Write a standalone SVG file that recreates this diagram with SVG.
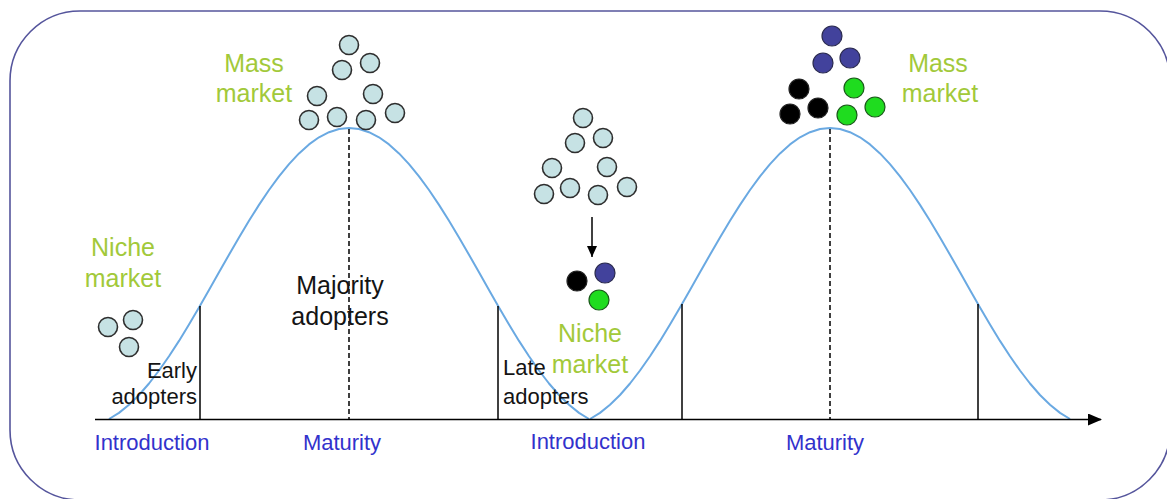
<svg xmlns="http://www.w3.org/2000/svg" width="1167" height="499" viewBox="0 0 1167 499">
<style>
text{font-family:"Liberation Sans",Arial,sans-serif}
.green{fill:#a2c93a;font-size:25px;text-anchor:middle}
.blk{fill:#141414}
.big{font-size:25px;text-anchor:middle}
.small{font-size:22px}
.blue{fill:#3232cc;font-size:22px;text-anchor:middle}
.pale{fill:#c6e2e4;stroke:#2e2e2e;stroke-width:1.6}
.dk{fill:#000;stroke:#222;stroke-width:1.2}
.bl{fill:#42429c;stroke:#2a2a50;stroke-width:1.2}
.gr{fill:#1fdc1f;stroke:#1a5a1a;stroke-width:1.2}
.curve{fill:none;stroke:#6aa9e2;stroke-width:2;stroke-linejoin:round}
.solid{stroke:#000;stroke-width:1.5}
.dash{stroke:#000;stroke-width:1.5;stroke-dasharray:5 3}
</style>
<defs>
<marker id="ah" markerWidth="14" markerHeight="12" refX="13" refY="6" orient="auto" markerUnits="userSpaceOnUse">
<path d="M0,0 L14,6 L0,12 Z" fill="#000"/>
</marker>
<marker id="ah2" markerWidth="11" markerHeight="10" refX="11" refY="5" orient="auto" markerUnits="userSpaceOnUse">
<path d="M0,0 L11,5 L0,10 Z" fill="#000"/>
</marker>
</defs>
<rect width="1167" height="499" fill="#fff"/>
<rect id="frame" x="10" y="11" width="1160" height="489" rx="70" ry="70" fill="none" stroke="#55559c" stroke-width="1.6"/>

<g id="connectors">
<polyline class="curve" points="109,419 119,412.9 129,404.8 139,395 149,383.5 159,370.5 169,356.2 179,340.9 189,324.4 199,307.4 209,290 219,272.3 229,254.8 239,237.5 249,220.8 259,204.9 269,190 279,176.4 289,164.1 299,153.4 309,144.4 319,137.3 329,132.2 339,129 349,128 359,129 369,132.2 379,137.3 389,144.4 399,153.4 409,164.1 419,176.4 429,190 439,204.9 449,220.8 459,237.5 469,254.8 479,272.3 489,290 499,307.4 509,324.4 519,340.9 529,356.2 539,370.5 549,383.5 559,395 569,404.8 579,412.9 589,419"/>
<polyline class="curve" points="590,419 600,412.9 610,404.8 620,395 630,383.5 640,370.5 650,356.2 660,340.9 670,324.4 680,307.4 690,290 700,272.3 710,254.8 720,237.5 730,220.8 740,204.9 750,190 760,176.4 770,164.1 780,153.4 790,144.4 800,137.3 810,132.2 820,129 830,128 840,129 850,132.2 860,137.3 870,144.4 880,153.4 890,164.1 900,176.4 910,190 920,204.9 930,220.8 940,237.5 950,254.8 960,272.3 970,290 980,307.4 990,324.4 1000,340.9 1010,356.2 1020,370.5 1030,383.5 1040,395 1050,404.8 1060,412.9 1070,419"/>
<line id="axis" x1="95" y1="419.5" x2="1101" y2="419.5" stroke="#000" stroke-width="1.5" marker-end="url(#ah)"/>
<line class="solid" x1="200" y1="306" x2="200" y2="419"/>
<line class="solid" x1="498" y1="306" x2="498" y2="419"/>
<line class="solid" x1="682" y1="304" x2="682" y2="419"/>
<line class="solid" x1="978" y1="304" x2="978" y2="419"/>
<line class="dash" x1="349" y1="129" x2="349" y2="419"/>
<line class="dash" x1="830" y1="129" x2="830" y2="419"/>
<line id="split-arrow" x1="592" y1="217" x2="592" y2="257" stroke="#000" stroke-width="1.5" marker-end="url(#ah2)"/>
</g>

<g id="niche-left">
<circle class="pale" cx="108" cy="327" r="9.5"/>
<circle class="pale" cx="133" cy="320" r="9.5"/>
<circle class="pale" cx="129" cy="347" r="9.5"/>
<text class="green" x="123" y="256">Niche</text>
<text class="green" x="123" y="287">market</text>
</g>

<g id="mass-left">
<circle class="pale" cx="349" cy="45" r="9.5"/>
<circle class="pale" cx="342" cy="70" r="9.5"/>
<circle class="pale" cx="370" cy="63" r="9.5"/>
<circle class="pale" cx="317" cy="96" r="9.5"/>
<circle class="pale" cx="373" cy="94" r="9.5"/>
<circle class="pale" cx="309" cy="120" r="9.5"/>
<circle class="pale" cx="337" cy="117" r="9.5"/>
<circle class="pale" cx="366" cy="120" r="9.5"/>
<circle class="pale" cx="395" cy="113" r="9.5"/>
<text class="green" x="254" y="72">Mass</text>
<text class="green" x="254" y="102">market</text>
</g>

<g id="split-top">
<circle class="pale" cx="583" cy="118" r="9.5"/>
<circle class="pale" cx="575" cy="143" r="9.5"/>
<circle class="pale" cx="603" cy="138" r="9.5"/>
<circle class="pale" cx="552" cy="168" r="9.5"/>
<circle class="pale" cx="607" cy="167" r="9.5"/>
<circle class="pale" cx="544" cy="194" r="9.5"/>
<circle class="pale" cx="570" cy="188" r="9.5"/>
<circle class="pale" cx="598" cy="195" r="9.5"/>
<circle class="pale" cx="627" cy="187" r="9.5"/>
</g>

<g id="niche-middle">
<circle class="dk" cx="577" cy="281" r="10"/>
<circle class="bl" cx="605" cy="273" r="10"/>
<circle class="gr" cx="599" cy="300" r="10"/>
<text class="green" x="590" y="342">Niche</text>
<text class="green" x="590" y="373">market</text>
</g>

<g id="mass-right">
<circle class="bl" cx="832" cy="36" r="10"/>
<circle class="bl" cx="823" cy="63" r="10"/>
<circle class="bl" cx="850" cy="58" r="10"/>
<circle class="dk" cx="799" cy="89" r="10"/>
<circle class="dk" cx="790" cy="114" r="10"/>
<circle class="dk" cx="818" cy="108" r="10"/>
<circle class="gr" cx="854" cy="88" r="10"/>
<circle class="gr" cx="847" cy="115" r="10"/>
<circle class="gr" cx="875" cy="107" r="10"/>
<text class="green" x="938" y="72">Mass</text>
<text class="green" x="940" y="102">market</text>
</g>

<g id="majority">
<text class="blk big" x="340" y="294">Majority</text>
<text class="blk big" x="340" y="325">adopters</text>
</g>
<g id="early">
<text class="blk small" x="197" y="378" text-anchor="end">Early</text>
<text class="blk small" x="197" y="404" text-anchor="end">adopters</text>
</g>
<g id="late">
<text class="blk small" x="503" y="375">Late</text>
<text class="blk small" x="503" y="404">adopters</text>
</g>

<g id="stages">
<text class="blue" x="152" y="450">Introduction</text>
<text class="blue" x="342" y="450">Maturity</text>
<text class="blue" x="588" y="449">Introduction</text>
<text class="blue" x="825" y="450">Maturity</text>
</g>
</svg>
